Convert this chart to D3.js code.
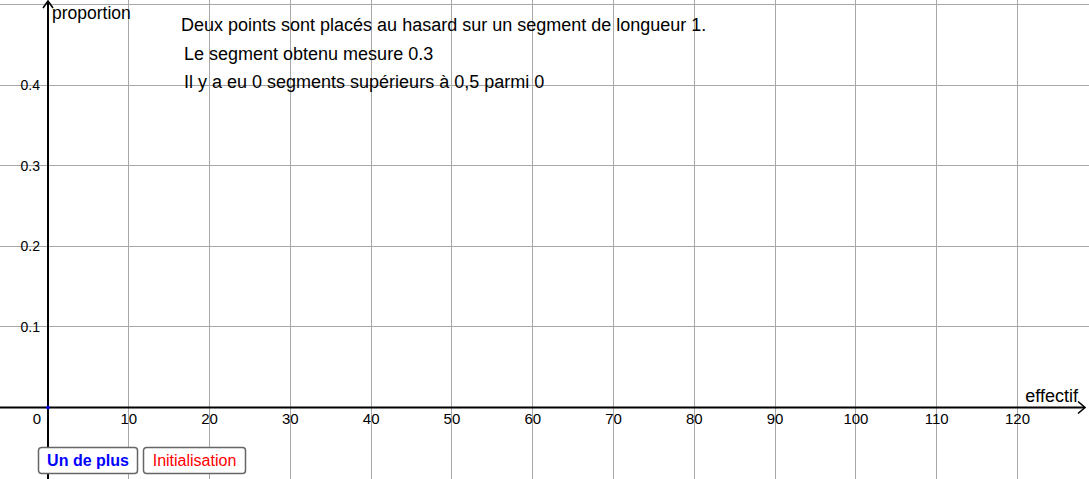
<!DOCTYPE html>
<html><head><meta charset="utf-8">
<script src="https://cdn.jsdelivr.net/npm/d3@7"></script>
<style>
body{margin:0;background:#fff;overflow:hidden}
svg{display:block;font-family:"Liberation Sans",Arial,sans-serif}
</style></head>
<body>
<svg id="c" width="1089" height="479"></svg>
<script>
const xTicks = [10,20,30,40,50,60,70,80,90,100,110,120];
const yTicks = [0.1,0.2,0.3,0.4];
const xGrid = [10,20,30,40,50,60,70,80,90,100,110,120,130];
const yGrid = [-0.1,0.1,0.2,0.3,0.4,0.5];
const effectif = [0];
const proportion = [0];
const xLabel = "effectif";
const yLabel = "proportion";
const texts = ["Deux points sont placés au hasard sur un segment de longueur 1.",
               "Le segment obtenu mesure 0.3",
               "Il y a eu 0 segments supérieurs à 0,5 parmi 0"];
const buttons = [{label:"Un de plus", color:"#0000ff", bold:true},
                 {label:"Initialisation", color:"#ff0000", bold:false}];

const W=1089,H=479;
const x = d3.scaleLinear().domain([0,120]).range([48,1017.5]);
const y = d3.scaleLinear().domain([0,0.4]).range([407.5,85]);
const svg = d3.select("#c");

// grid
svg.append("g").selectAll("line").data(xGrid).join("line")
  .attr("x1",d=>x(d)).attr("x2",d=>x(d)).attr("y1",0).attr("y2",H)
  .attr("stroke","#a8a8a8").attr("stroke-width",1).attr("shape-rendering","crispEdges");
svg.append("g").selectAll("line").data(yGrid).join("line")
  .attr("y1",d=>y(d)).attr("y2",d=>y(d)).attr("x1",0).attr("x2",W)
  .attr("stroke","#a8a8a8").attr("stroke-width",1).attr("shape-rendering","crispEdges");

// axes
const ax = svg.append("g").attr("stroke","#000").attr("stroke-width",2).attr("fill","none");
ax.append("line").attr("x1",0).attr("x2",1084).attr("y1",y(0)).attr("y2",y(0));
ax.append("line").attr("x1",x(0)).attr("x2",x(0)).attr("y1",H).attr("y2",2);
ax.append("path").attr("d",`M${1078},${y(0)-6} L${1085},${y(0)} L${1078},${y(0)+6}`).attr("stroke-width",1.6);
ax.append("path").attr("d",`M${x(0)-5},${8} L${x(0)},${1} L${x(0)+5},${8}`).attr("stroke-width",1.6);

// tick labels
svg.append("g").selectAll("text").data(xTicks).join("text")
  .attr("x",d=>x(d)).attr("y",y(0)+16).attr("text-anchor","middle")
  .attr("font-size",15).attr("fill","#000").text(d=>d);
svg.append("text").attr("x",x(0)-7).attr("y",y(0)+16).attr("text-anchor","end")
  .attr("font-size",15).text("0");
svg.append("g").selectAll("text").data(yTicks).join("text")
  .attr("x",x(0)-8).attr("y",d=>y(d)+5).attr("text-anchor","end")
  .attr("font-size",14).attr("fill","#000").text(d=>d.toFixed(1));

// axis labels
svg.append("text").attr("x",x(0)+4).attr("y",19).attr("font-size",17.5).text(yLabel);
svg.append("text").attr("x",1078).attr("y",y(0)-6).attr("text-anchor","end").attr("font-size",18).text(xLabel);

// info texts
const tpos=[[181,31],[184,60],[184,88]];
svg.append("g").selectAll("text").data(texts).join("text")
  .attr("x",(d,i)=>tpos[i][0]).attr("y",(d,i)=>tpos[i][1]).attr("font-size",18).text(d=>d);

// points
svg.append("g").selectAll("circle").data(effectif).join("circle")
  .attr("cx",(d,i)=>x(d)).attr("cy",(d,i)=>y(proportion[i])).attr("r",1.8).attr("fill","#0000ff");

// buttons
const bpos=[[38,99],[143,102]];
const bg = svg.append("g").selectAll("g").data(buttons).join("g")
  .attr("transform",(d,i)=>`translate(${bpos[i][0]},447)`);
bg.append("rect").attr("width",(d,i)=>bpos[i][1]).attr("height",26).attr("rx",3)
  .attr("fill","#fff").attr("stroke","#666").attr("stroke-width",1.5).attr("x",0.5).attr("y",0.5);
bg.append("text").attr("x",(d,i)=>bpos[i][1]/2+0.5).attr("y",19).attr("text-anchor","middle")
  .attr("font-size",16).attr("font-weight",d=>d.bold?"bold":"normal").attr("fill",d=>d.color).text(d=>d.label);
</script>
</body></html>
